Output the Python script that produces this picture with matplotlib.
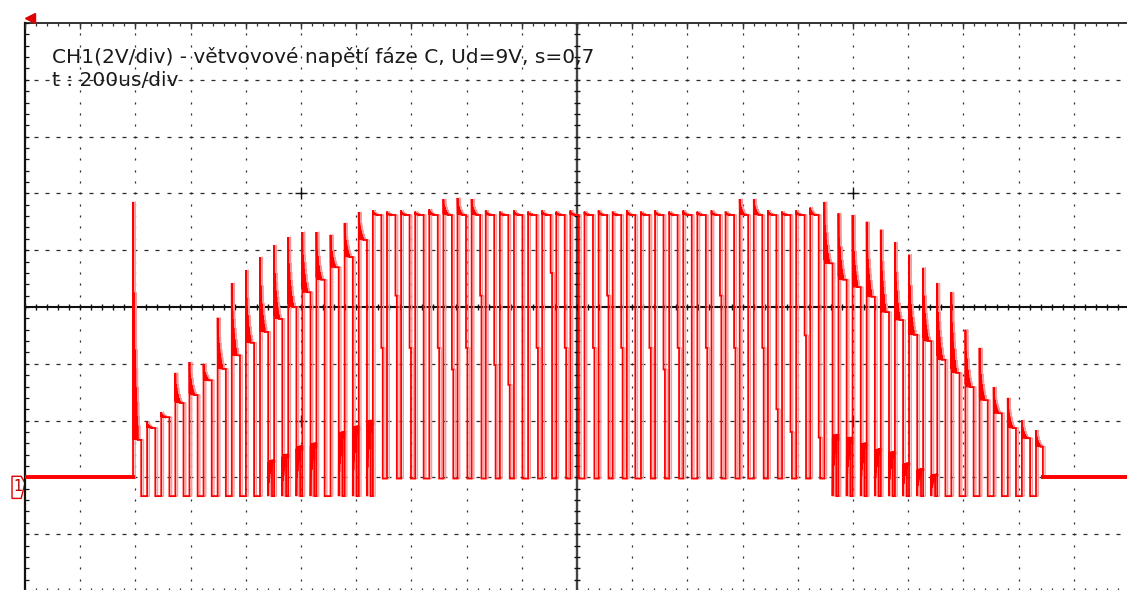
import matplotlib
matplotlib.use("Agg")
import matplotlib.pyplot as plt
from matplotlib.patches import Polygon

# Scope screen: 20 x 10 div, CH1 2 V/div, 200 us/div.
# All levels below are in divisions measured from the screen centre.
GND = -3.0                 # channel 1 ground marker
T_START = 1.957            # first switching edge [div]
PERIOD = 0.2556            # PWM carrier period [div]
T_LAST_FALL = 18.44        # trace returns to ground here

# pulses 0-16: envelope rising
HIGH_RISE = [-2.34, -2.13, -1.94, -1.69, -1.55, -1.29, -1.09, -0.85, -0.63,
             -0.44, -0.21, 0.00, 0.26, 0.48, 0.70, 0.88, 1.18]
PEAK_RISE = [1.85, -2.02, -1.85, -1.16, -0.97, -1.00, -0.19, 0.42, 0.65,
             0.88, 1.09, 1.23, 1.32, 1.32, 1.27, 1.48, 1.67]
LOW_RISE = [None, None, None, None, None, None, None, None, None,
            -2.70, -2.60, -2.45, -2.40, None, -2.20, -2.10, -2.00]

# pulses 17-48: saturated part, full swing
HIGH_MID = [1.62] * 32
PEAK_MID = [1.70, 1.68, 1.70, 1.68, 1.72, 1.90, 1.92, 1.90, 1.70, 1.68,
            1.70, 1.68, 1.70, 1.68, 1.70, 1.68, 1.70, 1.68, 1.70, 1.68,
            1.70, 1.68, 1.70, 1.68, 1.70, 1.68, 1.90, 1.90, 1.70, 1.68,
            1.70, 1.75]
STEP_MID = [-0.72, 0.20, -0.72, None, -0.72, -1.10, -0.72, 0.20, -1.02, -1.37,
            None, -0.72, 0.60, -0.72, None, -0.72, 0.20, -0.72, None, -0.72,
            -1.10, -0.72, None, -0.72, 0.20, -0.72, None, -0.72, -1.80, -2.20,
            -0.50, -2.30]

# pulses 49-64: envelope falling
HIGH_FALL = [0.77, 0.48, 0.35, 0.18, -0.09, -0.23, -0.49, -0.60, -0.93,
             -1.16, -1.41, -1.64, -1.87, -2.13, -2.31, -2.46]
PEAK_FALL = [1.85, 1.65, 1.62, 1.50, 1.36, 1.14, 0.92, 0.69, 0.42, 0.26,
             -0.40, -0.72, -1.41, -1.60, -1.99, -2.17]
LOW_FALL = [-2.25, -2.30, -2.40, -2.50, -2.55, -2.75, -2.85, -2.95, None,
            None, None, None, None, None, None, None]

BOTTOM_SIDE = -3.33
BOTTOM_MID = -3.02

# decaying ringing after an edge, as a fraction of the overshoot
RING = [1.0, 0.05, 0.62, 0.0, 0.5, 0.02, 0.38, 0.0, 0.3, 0.02, 0.22, 0.0,
        0.16, 0.01, 0.1, 0.0, 0.06, 0.0]
RING_LEN = 0.085


def add_ring(ts, vs, t0, base, peak):
    n = len(RING)
    for i, r in enumerate(RING):
        ts.append(t0 + RING_LEN * i / (n - 1))
        vs.append(base + (peak - base) * r)


highs = HIGH_RISE + HIGH_MID + HIGH_FALL
peaks = PEAK_RISE + PEAK_MID + PEAK_FALL
lows = LOW_RISE + [None] * len(HIGH_MID) + LOW_FALL
steps = [None] * len(HIGH_RISE) + STEP_MID + [None] * len(HIGH_FALL)
n_rise, n_mid = len(HIGH_RISE), len(HIGH_MID)

t, v = [0.0, T_START], [GND, GND]
for k in range(len(highs)):
    tk = T_START + k * PERIOD
    mid = n_rise <= k < n_rise + n_mid
    bottom = BOTTOM_MID if mid else BOTTOM_SIDE
    duty = 0.6 if mid else 0.58
    add_ring(t, v, tk, highs[k], peaks[k])
    tf = min(tk + duty * PERIOD, T_LAST_FALL)
    t.append(tf); v.append(highs[k])
    if k == len(highs) - 1:
        t += [tf, 20.0]; v += [GND, GND]
        break
    tn = tk + PERIOD
    if steps[k] is not None:
        t += [tf, tf + 0.1 * PERIOD]; v += [steps[k], steps[k]]
        tf += 0.1 * PERIOD
    if lows[k] is not None:
        add_ring(t, v, tf, lows[k], bottom)
        t += [tk + 0.85 * PERIOD, tk + 0.85 * PERIOD]; v += [lows[k], bottom]
    else:
        t.append(tf); v.append(bottom)
    t.append(tn); v.append(bottom)

fig = plt.figure(figsize=(11.27, 5.90), dpi=100)
ax = fig.add_axes([25 / 1127, -1 / 590, 1104 / 1127, 568 / 590])
ax.set_xlim(0, 20)
ax.set_ylim(-5, 5)
ax.axis("off")

GRID = "#2b2b2b"
minor = [i * 0.2 for i in range(101)]
minor_y = [-5 + i * 0.2 for i in range(51)]

# dotted graticule
for gx in range(1, 20):
    if gx == 10:
        continue
    ax.plot([gx] * len(minor_y), minor_y, ls="none", marker="|", ms=1.8,
            mew=0.9, color=GRID)
for gy in range(-4, 5):
    if gy == 0:
        continue
    ax.plot(minor, [gy] * len(minor), ls="none", marker="_", ms=2.6,
            mew=0.9, color=GRID)

# centre axes with minor ticks
ax.axvline(10, color="#444444", lw=1.7)
ax.axhline(0, color="#111111", lw=1.5)
ax.plot([10] * len(minor_y), minor_y, ls="none", marker="_", ms=5, mew=1.0, color="#111111")
ax.plot(minor, [0] * len(minor), ls="none", marker="|", ms=5, mew=1.0, color="#111111")

# frame with ticks
ax.plot([0, 20], [5, 5], color="#333333", lw=1.4, clip_on=False)
ax.plot([0, 0], [-5, 5], color="#111111", lw=1.6, clip_on=False)
ax.plot([0, 20], [-5, -5], color="#333333", lw=1.4, clip_on=False)
ax.vlines(minor, 4.94, 5, color="#333333", lw=0.9)
ax.vlines(range(21), 4.9, 5, color="#333333", lw=1.0)
ax.vlines(minor, -5, -4.94, color="#333333", lw=0.9)
ax.hlines(minor_y, 0, 0.07, color="#111111", lw=0.9)

# crosshair marks
ax.plot([5, 5, 15, 15], [2, -2, 2, -2], ls="none", marker="+", ms=8, mew=1.0, color="#111111")

# trace: faint second sweep slightly offset, then the main sweep
ax.plot([x + 0.04 for x in t], v, color="#ff9a9a", lw=1.0, zorder=4)
ax.plot(t, v, color="#ff0000", lw=1.3, solid_joinstyle="miter", zorder=5)
ax.plot([0, T_START], [GND, GND], color="#ff0000", lw=2.8, zorder=5)
ax.plot([T_LAST_FALL, 20], [GND, GND], color="#ff0000", lw=2.8, zorder=5)

# trigger position and channel marker
ax.plot([0.09], [5.09], marker="<", ms=7, color="#e00000", mec="#e00000", clip_on=False)
ax.add_patch(Polygon([(-0.235, -2.98), (-0.07, -2.98), (0.0, -3.1),
                      (-0.07, -3.37), (-0.235, -3.37)], closed=True,
                     facecolor="white", edgecolor="#e00000", lw=1.0, clip_on=False))
ax.text(-0.13, -3.16, "1", color="#b00000", fontsize=10.5, ha="center", va="center", clip_on=False)

ax.text(0.49, 4.40, "CH1(2V/div) - větvovové napětí fáze C, Ud=9V, s=0,7",
        fontsize=14.5, color="#1a1a1a", va="center", ha="left", family="DejaVu Sans")
ax.text(0.49, 3.99, "t : 200us/div", fontsize=14.5, color="#1a1a1a",
        va="center", ha="left", family="DejaVu Sans")

fig.savefig("out.png", dpi=100)
